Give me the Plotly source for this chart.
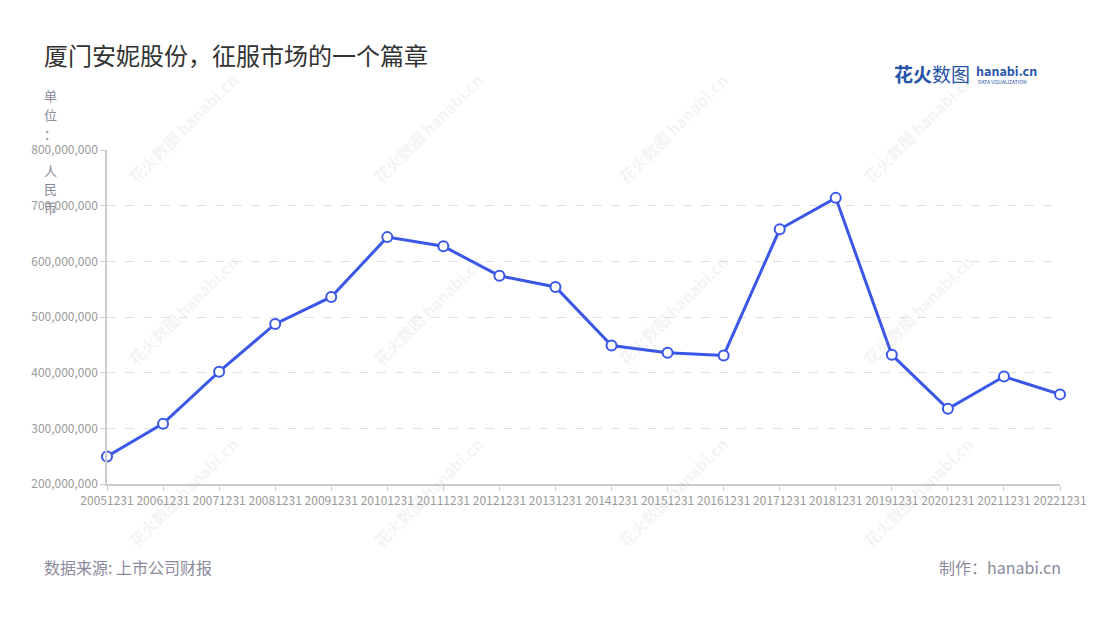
import plotly.graph_objects as go

categories = ["20051231", "20061231", "20071231", "20081231", "20091231", "20101231",
              "20111231", "20121231", "20131231", "20141231", "20151231", "20161231",
              "20171231", "20181231", "20191231", "20201231", "20211231", "20221231"]
values = [249400000, 308400000, 401800000, 487500000, 536000000, 643500000,
          627000000, 574000000, 554000000, 448700000, 435600000, 431000000,
          657600000, 714000000, 432000000, 335000000, 393000000, 361000000]
y_ticks = [200000000, 300000000, 400000000, 500000000, 600000000, 700000000, 800000000]
y_unit_chars = ["单", "位", "：", "", "人", "民", "币"]

title_text = "厦门安妮股份，征服市场的一个篇章"
source_text = "数据来源: 上市公司财报"
maker_text = "制作：hanabi.cn"

FONT = "Noto Sans CJK SC"
W, H = 1100, 620
ML, MR, MT, MB = 107, 40, 150, 136
PW, PH = W - ML - MR, H - MT - MB


def px(x):
    return (x - ML) / PW


def py(y):
    return (H - MB - y) / PH


fig = go.Figure()
fig.add_trace(go.Scatter(
    x=categories, y=values, mode="lines+markers",
    line=dict(color="#3a57e8", width=3),
    marker=dict(size=10, color="#ffffff", line=dict(color="#3a57e8", width=2)),
    cliponaxis=False, showlegend=False,
))

annotations = []
# watermarks
for cy in [128, 310, 492]:
    for cx in [183, 428, 673, 918]:
        annotations.append(dict(
            x=px(cx), y=py(cy), xref="paper", yref="paper",
            text="<b>花火数图</b> <b>hanabi.cn</b>", showarrow=False, textangle=-45,
            font=dict(family=FONT, size=16, color="rgba(170,170,170,0.15)"),
            xanchor="center", yanchor="middle",
        ))

# title
annotations.append(dict(x=px(42), y=py(55), xref="paper", yref="paper",
                        text=title_text, showarrow=False, xanchor="left", yanchor="middle",
                        font=dict(family=FONT, size=24, color="#333333")))
# logo
annotations.append(dict(x=px(892), y=py(73), xref="paper", yref="paper",
                        text="<b>花火</b>数图", showarrow=False, xanchor="left", yanchor="middle",
                        font=dict(family=FONT, size=19, color="#2553a8")))
annotations.append(dict(x=px(974), y=py(70), xref="paper", yref="paper",
                        text="<b>hanabi.cn</b>", showarrow=False, xanchor="left", yanchor="middle",
                        font=dict(family=FONT, size=12.5, color="#2553a8")))
annotations.append(dict(x=px(976), y=py(81), xref="paper", yref="paper",
                        text="DATA VISUALIZATION", showarrow=False, xanchor="left", yanchor="middle",
                        font=dict(family=FONT, size=5, color="#2553a8")))
# y unit label
for i, ch in enumerate(y_unit_chars):
    if ch:
        annotations.append(dict(x=px(50), y=py(96 + i * 18.5), xref="paper", yref="paper",
                                text=ch, showarrow=False, xanchor="center", yanchor="middle",
                                font=dict(family=FONT, size=13, color="#8a8a9c")))
# footer
annotations.append(dict(x=px(42), y=py(567), xref="paper", yref="paper",
                        text=source_text, showarrow=False, xanchor="left", yanchor="middle",
                        font=dict(family=FONT, size=16, color="#8a8a9c")))
annotations.append(dict(x=px(1063), y=py(567), xref="paper", yref="paper",
                        text=maker_text, showarrow=False, xanchor="right", yanchor="middle",
                        font=dict(family=FONT, size=16, color="#8a8a9c")))

fig.update_layout(
    width=W, height=H,
    margin=dict(l=ML, r=MR, t=MT, b=MB),
    paper_bgcolor="#ffffff", plot_bgcolor="#ffffff",
    font=dict(family=FONT, size=12, color="#999999"),
    annotations=annotations,
    xaxis=dict(
        type="category", range=[0, len(categories) - 1],
        showgrid=False, showline=True, linecolor="#cccccc", linewidth=1.5,
        ticks="outside", ticklen=5, tickcolor="#cccccc",
        tickfont=dict(family=FONT, size=12, color="#999999"),
        tickangle=0, zeroline=False,
    ),
    yaxis=dict(
        range=[200000000, 800000000], tickvals=y_ticks, tickformat=",",
        showgrid=True, gridcolor="#e0e0e0", griddash="dash", gridwidth=1,
        showline=True, linecolor="#cccccc", linewidth=1.5,
        ticks="outside", ticklen=5, tickcolor="#cccccc",
        tickfont=dict(family=FONT, size=12, color="#999999"),
        zeroline=False,
    ),
)

fig.write_html("out.html", config={"displayModeBar": False},
               post_script="document.body.style.margin='0px';")
